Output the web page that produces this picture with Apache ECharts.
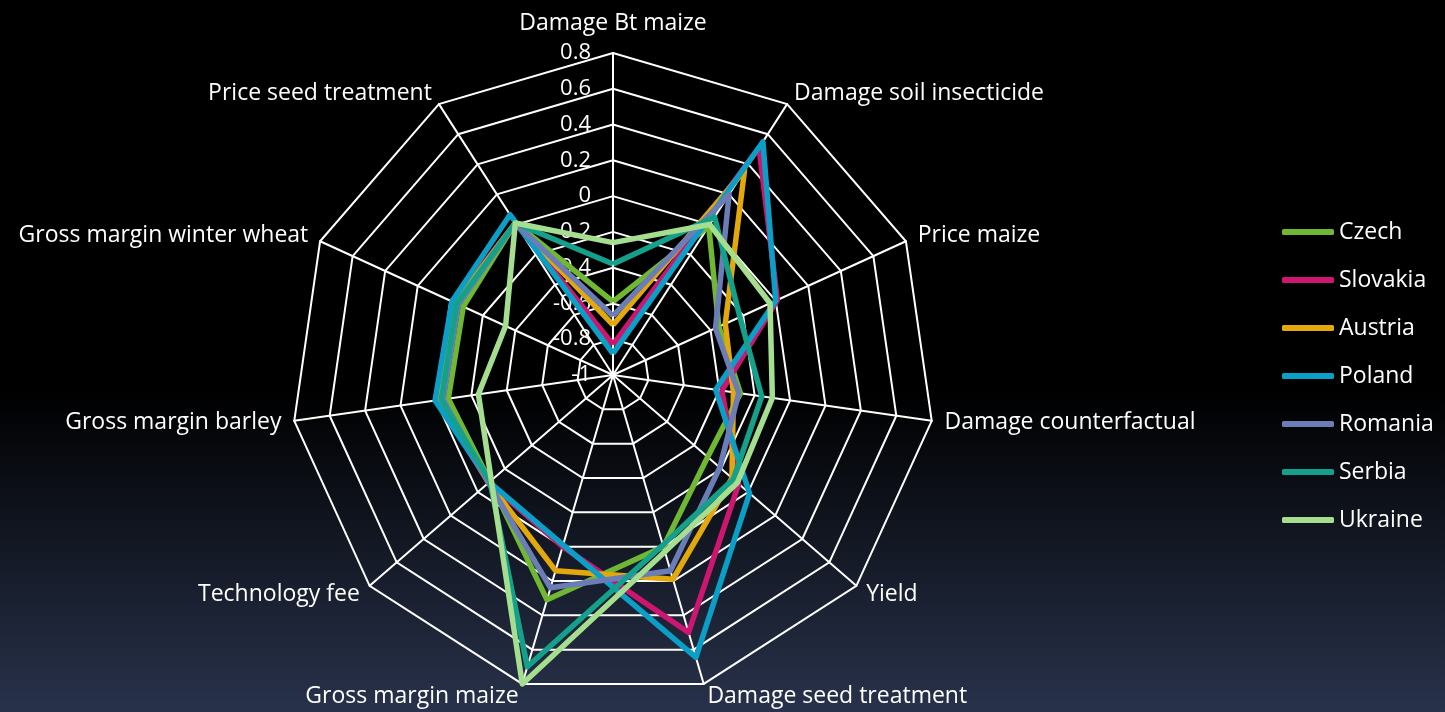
<!DOCTYPE html>
<html>
<head>
<meta charset="utf-8">
<script src="https://cdn.jsdelivr.net/npm/echarts@6/dist/echarts.min.js"></script>
<style>
  html, body { margin: 0; padding: 0; background: #000; }
  #radarChart { width: 1445px; height: 712px; }
</style>
</head>
<body>
<div id="radarChart"></div>
<script>
// indicators listed clockwise from the top, as in the source chart
const indicators = [
  'Damage Bt maize', 'Damage soil insecticide', 'Price maize', 'Damage counterfactual',
  'Yield', 'Damage seed treatment', 'Gross margin maize', 'Technology fee',
  'Gross margin barley', 'Gross margin winter wheat', 'Price seed treatment'
]
const countries = ['Czech', 'Slovakia', 'Austria', 'Poland', 'Romania', 'Serbia', 'Ukraine']
const colors = ['#70b833', '#cc1670', '#e2a80c', '#0b9ec6', '#6b7db6', '#14a08a', '#a6de90']

const czech = [-0.59, -0.01, -0.35, -0.28, -0.30, 0.00, 0.31, -0.09, -0.07, -0.08, 0.01]
const slovakia = [-0.83, 0.51, 0.01, -0.385, -0.07, 0.50, 0.00, -0.08, -0.01, -0.02, 0.01]
const austria = [-0.72, 0.36, -0.31, -0.32, -0.12, 0.19, 0.14, -0.08, -0.02, -0.03, 0.01]
const poland = [-0.88, 0.55, 0.00, -0.42, 0.01, 0.645, -0.01, -0.085, 0.005, -0.01, 0.065]
const romania = [-0.67, 0.20, -0.37, -0.29, -0.21, 0.14, 0.24, -0.08, -0.04, -0.05, 0.01]
const serbia = [-0.38, 0.05, -0.22, -0.16, -0.11, -0.01, 0.70, -0.09, -0.03, -0.04, 0.01]
const ukraine = [-0.26, 0.00, -0.035, -0.10, -0.08, 0.03, 0.80, -0.10, -0.24, -0.34, 0.01]

const seriesValues = [czech, slovakia, austria, poland, romania, serbia, ukraine]
const axisMin = -1
const axisMax = 0.8

// echarts radar runs counter-clockwise, so keep the first axis and reverse the rest
const order = [0].concat(indicators.map((_, i) => i).slice(1).reverse())
const reorder = arr => order.map(i => arr[i])

const chart = echarts.init(document.getElementById('radarChart'))

const option = {
  backgroundColor: new echarts.graphic.LinearGradient(0, 0, 0, 1, [
    { offset: 0, color: '#000000' },
    { offset: 0.55, color: '#000000' },
    { offset: 1, color: '#28324b' }
  ]),
  color: colors,
  textStyle: { fontFamily: 'Open Sans' },
  legend: {
    data: countries,
    orient: 'vertical',
    left: 1277,
    top: 215,
    itemWidth: 52,
    itemHeight: 6,
    itemGap: 24,
    icon: 'roundRect',
    textStyle: { color: '#ffffff', fontSize: 23, lineHeight: 24, fontFamily: 'Open Sans' }
  },
  radar: {
    center: [613, 375],
    radius: 322,
    startAngle: 90,
    shape: 'polygon',
    splitNumber: 9,
    nameGap: 13,
    axisName: { color: '#ffffff', fontSize: 23, fontFamily: 'Open Sans' },
    axisLine: { lineStyle: { color: '#ffffff', width: 2 } },
    splitLine: { lineStyle: { color: '#ffffff', width: 2 } },
    splitArea: { show: false },
    indicator: reorder(indicators).map((name, i) => {
      const ind = { name: name, min: axisMin, max: axisMax }
      if (i === 0) {
        ind.nameGap = 18
        ind.axisLabel = {
          show: true,
          color: '#ffffff',
          fontSize: 22,
          fontFamily: 'Open Sans',
          margin: 22
        }
      }
      return ind
    })
  },
  series: [{
    type: 'radar',
    symbol: 'none',
    data: countries.map((c, i) => ({
      name: c,
      value: reorder(seriesValues[i]),
      lineStyle: { color: colors[i], width: 5.5 },
      itemStyle: { color: colors[i] }
    }))
  }]
}

chart.setOption(option)
</script>
</body>
</html>
